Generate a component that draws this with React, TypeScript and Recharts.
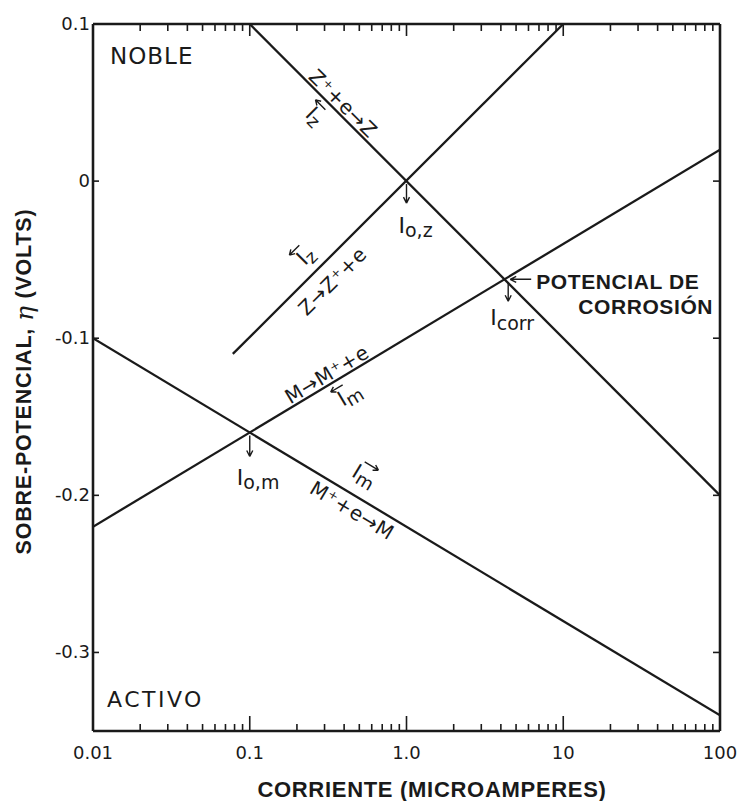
import React from "react";
import { LineChart, Line, XAxis, YAxis, ReferenceDot, ReferenceLine, Label } from "recharts";

// log current axis (microamperes) and overpotential axis (volts)
const X_MAJOR = [0.01, 0.1, 1, 10, 100];
const X_MAJOR_LABELS = ["0.01", "0.1", "1.0", "10", "100"];
const Y_TICKS = [0.1, 0, -0.1, -0.2, -0.3];
const Y_TICK_LABELS = ["0.1", "0", "-0.1", "-0.2", "-0.3"];
const X_DOMAIN = [0.01, 100];
const Y_DOMAIN = [-0.35, 0.1];

// Tafel lines, end points only (straight on a log-current axis)
const zReduction = [{ x: 0.1, y: 0.1 }, { x: 100, y: -0.2 }];
const zOxidation = [{ x: 0.078, y: -0.11 }, { x: 10, y: 0.1 }];
const mOxidation = [{ x: 0.01, y: -0.22 }, { x: 100, y: 0.02 }];
const mReduction = [{ x: 0.01, y: -0.1 }, { x: 100, y: -0.34 }];

// exchange currents and the mixed (corrosion) point
const I0_Z = { x: 1, y: 0 };
const I0_M = { x: 0.1, y: -0.16 };
const I_CORR = { x: 4.2, y: -0.0625 };

const INK = "#1a1a1a";
const FONT = "DejaVu Sans";
const BOLD_FONT = "Liberation Sans";

const X_MINOR = X_MAJOR.slice(0, -1).flatMap((d) =>
  [2, 3, 4, 5, 6, 7, 8, 9].map((k) => +(d * k).toPrecision(3))
);
const X_TICKS = [...X_MAJOR, ...X_MINOR].sort((a, b) => a - b);

type Pt = { x: number; y: number };

// y of a Tafel line at current x
function onLine(pts: Pt[], x: number) {
  const [a, b] = pts;
  const t = (Math.log10(x) - Math.log10(a.x)) / (Math.log10(b.x) - Math.log10(a.x));
  return a.y + t * (b.y - a.y);
}

const BottomTick = ({ x, y, payload }: any) => {
  const i = X_MAJOR.indexOf(payload.value);
  const major = i >= 0;
  return (
    <g>
      <line x1={x} x2={x} y1={y} y2={y - (major ? 15 : 7)} stroke={INK} strokeWidth={1.6} />
      {major && (
        <text x={x} y={y + 28} textAnchor="middle" fontSize={18} fontFamily={FONT} fill={INK}>
          {X_MAJOR_LABELS[i]}
        </text>
      )}
    </g>
  );
};

const TopTick = ({ x, y, payload }: any) => {
  const major = X_MAJOR.includes(payload.value);
  return <line x1={x} x2={x} y1={y} y2={y + (major ? 12 : 7)} stroke={INK} strokeWidth={1.6} />;
};

const LeftTick = ({ x, y, payload }: any) => {
  const i = Y_TICKS.indexOf(payload.value);
  return (
    <g>
      <line x1={x} x2={x + 6} y1={y} y2={y} stroke={INK} strokeWidth={1.6} />
      <text x={x - 3} y={y + 6} textAnchor="end" fontSize={18} fontFamily={FONT} fill={INK}>
        {Y_TICK_LABELS[i]}
      </text>
    </g>
  );
};

const RightTick = ({ x, y }: any) => (
  <line x1={x} x2={x - 7} y1={y} y2={y} stroke={INK} strokeWidth={1.6} />
);

const YTitle = ({ viewBox }: any) => {
  const cx = viewBox.x + 24;
  const cy = viewBox.y + viewBox.height / 2 + 4;
  return (
    <text
      transform={`translate(${cx},${cy}) rotate(-90)`}
      textAnchor="middle"
      dominantBaseline="central"
      fontSize={21.5}
      fontWeight="bold"
      fontFamily={BOLD_FONT}
      fill={INK}
      letterSpacing={0.8}
    >
      SOBRE-POTENCIAL, <tspan fontStyle="italic" fontFamily="DejaVu Serif" fontWeight="normal" fontSize={25}>η</tspan> (VOLTS)
    </text>
  );
};

const XTitle = ({ viewBox }: any) => (
  <text
    x={viewBox.x + 339}
    y={viewBox.y + 66}
    textAnchor="middle"
    fontSize={22}
    fontWeight="bold"
    fontFamily={BOLD_FONT}
    fill={INK}
    letterSpacing={0.7}
  >
    CORRIENTE (MICROAMPERES)
  </text>
);

// text rotated along a line, v = offset across the line (baseline)
const along = (angle: number, v: number, text: string) => (p: any) => (
  <g transform={`translate(${p.cx},${p.cy}) rotate(${angle})`}>
    <text x={0} y={v} textAnchor="middle" fontSize={20} fontFamily={FONT} fill={INK} letterSpacing={0.5}>
      {text}
    </text>
  </g>
);

// current symbol I with a subscript and a direction arrow above
const current = (angle: number, v: number, sub: string, dir: number) => (p: any) => {
  const ay = v - 19;
  const x0 = dir < 0 ? -12 : -4;
  const x1 = dir < 0 ? 2 : 12;
  const tip = dir < 0 ? x0 : x1;
  return (
    <g transform={`translate(${p.cx},${p.cy}) rotate(${angle})`}>
      <text x={-9} y={v} fontSize={21} fontFamily={FONT} fill={INK}>
        I<tspan dy={4} fontSize={18}>{sub}</tspan>
      </text>
      <path
        d={`M${x0},${ay} L${x1},${ay} M${tip},${ay} l${-dir * 5},-3 M${tip},${ay} l${-dir * 5},3`}
        stroke={INK}
        strokeWidth={1.4}
        fill="none"
      />
    </g>
  );
};

// downward arrow from an intersection with the exchange-current label
const exchange = (dx: number, dy: number, sub: string, len: number) => (p: any) => (
  <g>
    <path
      d={`M${p.cx},${p.cy + 3} L${p.cx},${p.cy + len} M${p.cx},${p.cy + len} l-3,-6 M${p.cx},${p.cy + len} l3,-6`}
      stroke={INK}
      strokeWidth={1.4}
      fill="none"
    />
    <text x={p.cx + dx} y={p.cy + dy} fontSize={22} fontFamily={FONT} fill={INK}>
      I<tspan dy={4} fontSize={19}>{sub}</tspan>
    </text>
  </g>
);

const corrosion = (p: any) => (
  <g>
    <path
      d={`M${p.cx + 4},${p.cy + 3} L${p.cx + 4},${p.cy + 22} l-3,-6 M${p.cx + 4},${p.cy + 22} l3,-6`}
      stroke={INK}
      strokeWidth={1.4}
      fill="none"
    />
    <text x={p.cx - 14} y={p.cy + 46} fontSize={22} fontFamily={FONT} fill={INK}>
      I<tspan dy={5} fontSize={19}>corr</tspan>
    </text>
    <path
      d={`M${p.cx + 27},${p.cy} L${p.cx + 6},${p.cy} l6,-3 M${p.cx + 6},${p.cy} l6,3`}
      stroke={INK}
      strokeWidth={1.4}
      fill="none"
    />
    <g fontSize={21} fontWeight="bold" fontFamily={BOLD_FONT} fill={INK} letterSpacing={0.6}>
      <text x={p.cx + 32} y={p.cy + 10}>POTENCIAL DE</text>
      <text x={p.cx + 74} y={p.cy + 35}>CORROSIÓN</text>
    </g>
  </g>
);

const corner = (dx: number, dy: number, text: string, size: number, spacing: number) => (p: any) => (
  <text x={p.cx + dx} y={p.cy + dy} fontSize={size} fontFamily={FONT} fill={INK} letterSpacing={spacing}>
    {text}
  </text>
);

const series = [zReduction, zOxidation, mOxidation, mReduction];
const frame = { stroke: INK, strokeWidth: 2.4, ifOverflow: "visible" as const };

export default function App() {
  return (
    <div style={{ position: "absolute", left: 0, top: 0, background: "#fff" }}>
      <LineChart width={751} height={801} margin={{ top: 14, right: 21, bottom: 30, left: 0 }}>
        <XAxis
          dataKey="x"
          type="number"
          scale="log"
          domain={X_DOMAIN}
          allowDataOverflow
          ticks={X_TICKS}
          interval={0}
          tick={BottomTick}
          tickLine={false}
          tickSize={0}
          tickMargin={0}
          height={40}
          axisLine={{ stroke: INK, strokeWidth: 2.2 }}
        >
          <Label content={XTitle} />
        </XAxis>
        <XAxis
          xAxisId="top"
          orientation="top"
          dataKey="x"
          type="number"
          scale="log"
          domain={X_DOMAIN}
          allowDataOverflow
          ticks={X_TICKS}
          interval={0}
          tick={TopTick}
          tickLine={false}
          tickSize={0}
          tickMargin={0}
          height={10}
          axisLine={{ stroke: INK, strokeWidth: 2.2 }}
        />
        <YAxis
          type="number"
          domain={Y_DOMAIN}
          allowDataOverflow
          ticks={Y_TICKS}
          interval={0}
          tick={LeftTick}
          tickLine={false}
          tickSize={0}
          tickMargin={0}
          width={93}
          axisLine={{ stroke: INK, strokeWidth: 2.2 }}
        >
          <Label content={YTitle} />
        </YAxis>
        <YAxis
          yAxisId="right"
          orientation="right"
          type="number"
          domain={Y_DOMAIN}
          allowDataOverflow
          ticks={Y_TICKS}
          interval={0}
          tick={RightTick}
          tickLine={false}
          tickSize={0}
          tickMargin={0}
          width={10}
          axisLine={{ stroke: INK, strokeWidth: 2.2 }}
        />

        {/* plot frame */}
        <ReferenceLine y={Y_DOMAIN[1]} {...frame} />
        <ReferenceLine y={Y_DOMAIN[0]} {...frame} />
        <ReferenceLine x={X_DOMAIN[0]} {...frame} />
        <ReferenceLine x={X_DOMAIN[1]} {...frame} />

        {series.map((data, i) => (
          <Line
            key={i}
            data={data}
            dataKey="y"
            type="linear"
            stroke={INK}
            strokeWidth={2.3}
            dot={false}
            activeDot={false}
            isAnimationActive={false}
          />
        ))}

        {/* reaction labels along the Tafel lines */}
        <ReferenceDot x={0.355} y={onLine(zReduction, 0.355)} r={0} shape={along(45, -3, "Z⁺+e→Z")} />
        <ReferenceDot x={0.32} y={onLine(zReduction, 0.32)} r={0} shape={current(45, 26, "z", -1)} />
        <ReferenceDot x={0.277} y={onLine(zOxidation, 0.277)} r={0} shape={current(-45, -11, "z", -1)} />
        <ReferenceDot x={0.277} y={onLine(zOxidation, 0.277)} r={0} shape={along(-45, 26, "Z→Z⁺+e")} />
        <ReferenceDot x={0.335} y={onLine(mOxidation, 0.335)} r={0} shape={along(-31, -3, "M→M⁺+e")} />
        <ReferenceDot x={0.362} y={onLine(mOxidation, 0.362)} r={0} shape={current(-31, 26, "m", -1)} />
        <ReferenceDot x={0.44} y={onLine(mReduction, 0.44)} r={0} shape={current(31, -15, "m", 1)} />
        <ReferenceDot x={0.5} y={onLine(mReduction, 0.5)} r={0} shape={along(31, 21, "M⁺+e→M")} />

        <ReferenceDot x={I0_Z.x} y={I0_Z.y} r={0} shape={exchange(-8, 52, "o,z", 22)} />
        <ReferenceDot x={I0_M.x} y={I0_M.y} r={0} shape={exchange(-13, 53, "o,m", 24)} />
        <ReferenceDot x={I_CORR.x} y={I_CORR.y} r={0} shape={corrosion} />

        <ReferenceDot x={0.01} y={0.1} r={0} shape={corner(17, 40, "NOBLE", 23, 1)} />
        <ReferenceDot x={0.01} y={-0.35} r={0} shape={corner(14, -24, "ACTIVO", 22, 2.5)} />
      </LineChart>
    </div>
  );
}
